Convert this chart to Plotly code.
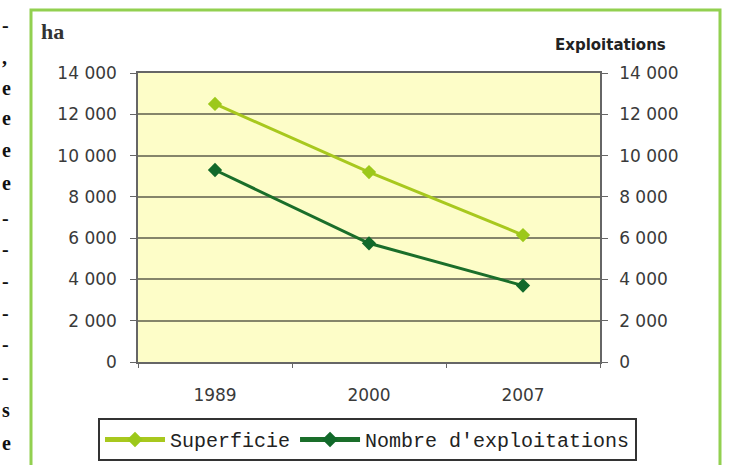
import plotly.graph_objects as go

# ---- data ----
years = ["1989", "2000", "2007"]
superficie = [12500, 9200, 6150]          # ha
exploitations = [9300, 5750, 3700]        # nombre d'exploitations
tick_vals = [0, 2000, 4000, 6000, 8000, 10000, 12000, 14000]
tick_text = ["0", "2 000", "4 000", "6 000", "8 000", "10 000", "12 000", "14 000"]
left_frag = ["-", ",", "e", "e", "e", "e", "-", "-", "-", "-", "-", "-", "s", "e"]
left_frag_y = [25, 57, 88, 118, 150, 183, 218, 249, 281, 313, 344, 377, 410, 443]

W, H = 731, 465
L, R, T, B = 138, 131, 73, 103
PW, PH = W - L - R, H - T - B


def px(x):
    return (x - L) / PW


def py(y):
    return (H - B - y) / PH


fig = go.Figure()
fig.add_trace(go.Scatter(
    x=years, y=superficie, name="Superficie", mode="lines+markers",
    line=dict(color="#A8C81E", width=3),
    marker=dict(symbol="diamond", size=11, color="#9CC81A"),
))
fig.add_trace(go.Scatter(
    x=years, y=exploitations, name="Nombre d'exploitations", mode="lines+markers",
    line=dict(color="#1A6E2A", width=3),
    marker=dict(symbol="diamond", size=11, color="#11692A"),
    yaxis="y2",
))

axis_font = dict(family="DejaVu Sans", size=17, color="#3a3a3a")

fig.update_layout(
    width=W, height=H,
    margin=dict(l=L, r=R, t=T, b=B, autoexpand=False),
    paper_bgcolor="white",
    plot_bgcolor="#FDFDC8",
    showlegend=True,
    legend=dict(
        orientation="h", x=px(98), y=py(418), xanchor="left", yanchor="top",
        bgcolor="white", bordercolor="#333333", borderwidth=2,
        font=dict(family="Liberation Mono", size=20, color="#222222"),
        itemsizing="constant", itemwidth=60, tracegroupgap=0,
    ),
    xaxis=dict(
        type="category", range=[-0.5, 2.5], tickson="boundaries",
        ticks="outside", ticklen=4, tickcolor="#666666",
        showgrid=False, showline=True, linecolor="#666666", linewidth=1.5,
        mirror=True, tickfont=axis_font, ticklabelstandoff=17,
    ),
    yaxis=dict(
        range=[0, 14000], tickvals=tick_vals, ticktext=tick_text,
        ticks="outside", ticklen=6, tickcolor="#666666",
        showgrid=True, gridcolor="#85856A", gridwidth=1.5,
        showline=True, linecolor="#666666", linewidth=1.5,
        tickfont=axis_font, zeroline=False, ticklabelstandoff=10,
    ),
    yaxis2=dict(
        range=[0, 14000], tickvals=tick_vals, ticktext=tick_text,
        overlaying="y", side="right",
        ticks="outside", ticklen=6, tickcolor="#666666",
        showgrid=False, showline=True, linecolor="#666666", linewidth=1.5,
        tickfont=axis_font, zeroline=False, ticklabelstandoff=8,
    ),
)

# green frame
fig.add_shape(type="rect", xref="paper", yref="paper",
              x0=px(31), x1=px(720), y0=py(475), y1=py(10),
              line=dict(color="#92D050", width=3), fillcolor="rgba(0,0,0,0)",
              layer="below")

# axis titles
fig.add_annotation(text="<b>ha</b>", xref="paper", yref="paper",
                   x=px(39), y=py(31), xanchor="left", yanchor="middle",
                   showarrow=False,
                   font=dict(family="Liberation Serif", size=22, color="#333333"))
fig.add_annotation(text="<b>Exploitations</b>", xref="paper", yref="paper",
                   x=px(668), y=py(45), xanchor="right", yanchor="middle",
                   showarrow=False,
                   font=dict(family="DejaVu Sans", size=15, color="#222222"))

# cut-off text from the surrounding document at the left edge
for t, yy in zip(left_frag, left_frag_y):
    fig.add_annotation(text="<b>%s</b>" % t, xref="paper", yref="paper",
                       x=px(0), y=py(yy), xanchor="left", yanchor="middle",
                       showarrow=False,
                       font=dict(family="Liberation Serif", size=20, color="#111111"))

fig.write_html("out.html", config={"displayModeBar": False},
               post_script="document.body.style.margin='0';")
